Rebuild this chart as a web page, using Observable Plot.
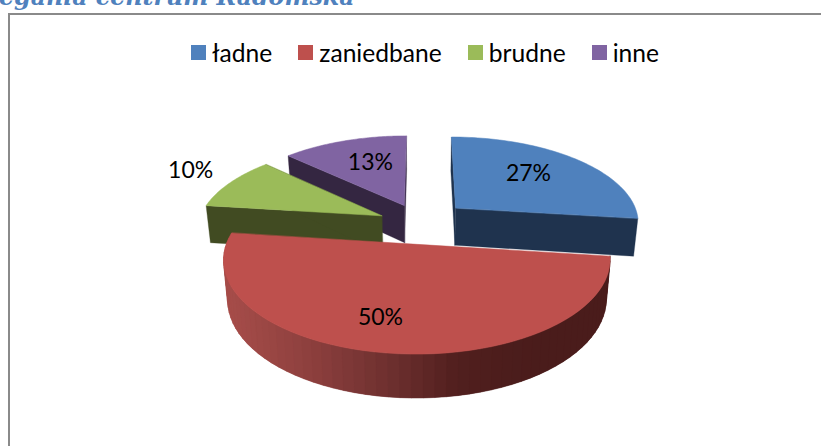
<!DOCTYPE html>
<html lang="pl">
<head>
<meta charset="utf-8">
<script src="https://cdn.jsdelivr.net/npm/d3@7"></script>
<script src="https://cdn.jsdelivr.net/npm/@observablehq/plot@0.6"></script>
<style>
html,body{margin:0;padding:0;width:821px;height:446px;overflow:hidden;background:#fff}
#title{height:13px;overflow:hidden;position:relative;font:italic bold 23.7px "DejaVu Serif",serif;color:#4f81bd;white-space:nowrap}
#title span{position:absolute;left:-1px;bottom:3px;line-height:1}
#frame{margin-left:8px;border-left:2px solid #8a8a8a;border-top:2px solid #8a8a8a;height:431px;width:811px;overflow:hidden;position:relative}
#legend{height:55px;box-sizing:border-box;padding:23px 0 0 181px}
#legend [class*="-swatches"]{margin:0!important;min-height:0!important;display:flex!important;flex-wrap:nowrap!important;white-space:nowrap}
#legend [class*="-swatch"]{font:24.6px Lato,sans-serif!important;color:#000!important}
#legend span[class*="-swatch"]{margin-right:26px!important;display:inline-flex!important;align-items:center;line-height:30px}
#legend span[class*="-swatch"] svg{margin-right:6px!important}
</style>
</head>
<body>
<div id="title"><span>egania centrum Radomska</span></div>
<div id="frame"><div id="legend"></div><div id="chart"></div></div>
<script>
// Chart content
const categories = ["ładne", "zaniedbane", "brudne", "inne"];
const values = [27, 50, 10, 13];
const topColors = ["#4f81bd", "#be504d", "#9bbb59", "#8064a2"];
const faceColors = ["#1f334e", "#4c1e1d", "#414b22", "#342641"];

// Layout of the 3-D view: page-pixel projection of the pie's ground plane
const view = {cx: 422, cy: 222.6, sx: 184, sy: 85.6, persp: 0.156, explode: 0.23, depth: 38, depthPersp: 0.11, shrink: 0.98};
const labelPlace = [{turn: -5, r: 0.668}, {turn: 5.9, r: 0.732}, {turn: 0.9, r: 1.32}, {turn: 2.2, r: 0.627}];
const nudge = [[2, -2.5], [0, 1], [-3, 1], [-2, 0]];
const wallRamp = d3.piecewise(d3.interpolateRgb, ["#a54c49", "#8e403e", "#703130", "#501f1e", "#4a1c1b", "#4a1c1b"]);

const rad = (d) => d * Math.PI / 180;
const total = d3.sum(values);
let acc = 0;
const slices = categories.map((name, i) => {
  const a0 = acc / total * 360;
  acc += values[i];
  const a1 = acc / total * 360;
  const mid = rad((a0 + a1) / 2);
  return {i, name, a0, a1, ox: view.explode * Math.sin(mid), oy: view.explode * Math.cos(mid)};
});
const ground = (s, angle, r = 1) => [s.ox + r * Math.sin(rad(angle)), s.oy + r * Math.cos(rad(angle))];
const topPt = (s, [u, v]) => {
  const w = 1 + view.persp * v;
  return {x: view.cx + view.sx * u / w + nudge[s.i][0], y: view.cy - view.sy * v / w + nudge[s.i][1]};
};
const botPt = (s, [u, v]) => {
  const t = topPt(s, [u, v]);
  return {x: view.cx + (t.x - view.cx) * view.shrink, y: t.y + view.depth / (1 + view.depthPersp * v)};
};
const arcAngles = (a0, a1, n) => d3.range(n + 1).map((k) => a0 + (a1 - a0) * k / n);

const polys = [];
let pid = 0;
const add = (pts, color, sw) => { pid++; pts.forEach((p) => polys.push({...p, id: pid, color, sw})); };
for (const s of [slices[3], slices[2], slices[0], slices[1]]) {
  const face = faceColors[s.i];
  const c = [s.ox, s.oy];
  if (s.i !== 1) {
    for (const a of [s.a0, s.a1]) {
      const g = ground(s, a);
      add([topPt(s, c), topPt(s, g), botPt(s, g), botPt(s, c)], face, 0.3);
    }
  } else {
    // Only the near slice shows its rounded wall: shaded from left to right
    const angles = arcAngles(s.a0, s.a1, 60);
    const x0 = topPt(s, ground(s, s.a1)).x, x1 = topPt(s, ground(s, s.a0)).x;
    const order = d3.pairs(angles).reverse();
    order.forEach(([a, b], k) => {
      const ga = ground(s, a), gb = ground(s, Math.min(s.a1, b));
      const ext = ground(s, Math.max(s.a0, a - 3));
      const xm = (topPt(s, ga).x + topPt(s, gb).x) / 2;
      const col = wallRamp(Math.max(0, Math.min(1, (xm - x0) / (x1 - x0))));
      add([topPt(s, ext), topPt(s, gb), botPt(s, gb), botPt(s, ext)], col, 0.3);
    });
  }
  add([topPt(s, c), ...arcAngles(s.a0, s.a1, 60).map((a) => topPt(s, ground(s, a)))], topColors[s.i], 0.5);
}
const labels = slices.map((s) => {
  const p = topPt(s, ground(s, (s.a0 + s.a1) / 2 + labelPlace[s.i].turn, labelPlace[s.i].r));
  return {x: p.x - nudge[s.i][0], y: p.y - nudge[s.i][1], text: values[s.i] + "%"};
});

document.getElementById("legend").append(Plot.legend({
  color: {type: "ordinal", domain: categories, range: topColors},
  swatchSize: 15
}));

document.getElementById("chart").append(Plot.plot({
  width: 811, height: 376,
  margin: 0,
  x: {domain: [10, 821], range: [0, 811], axis: null},
  y: {domain: [70, 446], range: [0, 376], axis: null},
  color: {type: "identity"},
  marks: [
    Plot.line(polys, {x: "x", y: "y", z: "id", fill: "color", stroke: "color", strokeWidth: "sw", curve: "linear-closed"}),
    Plot.text(labels, {x: "x", y: "y", text: "text", fontSize: 23, fontFamily: "Lato, sans-serif", fill: "#000"})
  ]
}));
</script>
</body>
</html>
